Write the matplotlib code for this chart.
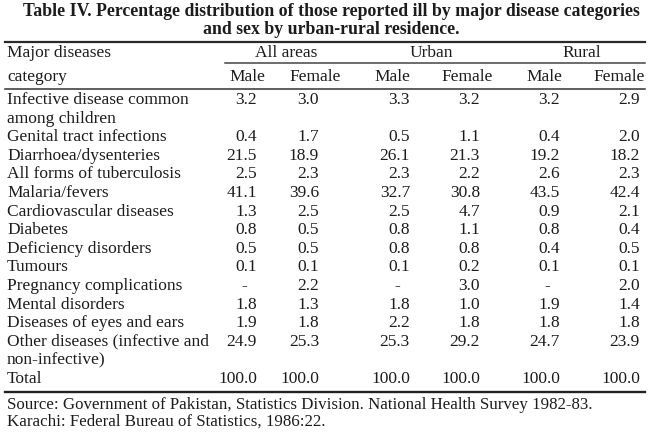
import matplotlib
matplotlib.use('Agg')
from matplotlib import pyplot as plt

plt.rcParams['font.family'] = ['Liberation Serif', 'DejaVu Serif']

title_lines = ['Table IV. Percentage distribution of those reported ill by major disease categories',
               'and sex by urban-rural residence.']
groups = ['All areas', 'Urban', 'Rural']
sexes = ['Male', 'Female', 'Male', 'Female', 'Male', 'Female']
categories = ['Infective disease common\namong children',
              'Genital tract infections',
              'Diarrhoea/dysenteries',
              'All forms of tuberculosis',
              'Malaria/fevers',
              'Cardiovascular diseases',
              'Diabetes',
              'Deficiency disorders',
              'Tumours',
              'Pregnancy complications',
              'Mental disorders',
              'Diseases of eyes and ears',
              'Other diseases (infective and\nnon-infective)',
              'Total']
all_male = ['3.2', '0.4', '21.5', '2.5', '41.1', '1.3', '0.8', '0.5', '0.1', '-', '1.8', '1.9', '24.9', '100.0']
all_female = ['3.0', '1.7', '18.9', '2.3', '39.6', '2.5', '0.5', '0.5', '0.1', '2.2', '1.3', '1.8', '25.3', '100.0']
urban_male = ['3.3', '0.5', '26.1', '2.3', '32.7', '2.5', '0.8', '0.8', '0.1', '-', '1.8', '2.2', '25.3', '100.0']
urban_female = ['3.2', '1.1', '21.3', '2.2', '30.8', '4.7', '1.1', '0.8', '0.2', '3.0', '1.0', '1.8', '29.2', '100.0']
rural_male = ['3.2', '0.4', '19.2', '2.6', '43.5', '0.9', '0.8', '0.4', '0.1', '-', '1.9', '1.8', '24.7', '100.0']
rural_female = ['2.9', '2.0', '18.2', '2.3', '42.4', '2.1', '0.4', '0.5', '0.1', '2.0', '1.4', '1.8', '23.9', '100.0']
source_lines = ['Source: Government of Pakistan, Statistics Division. National Health Survey 1982-83.',
                'Karachi: Federal Bureau of Statistics, 1986:22.']

columns = [all_male, all_female, urban_male, urban_female, rural_male, rural_female]

ink = '#1c1c1c'
fs = 12.5

fig = plt.figure(figsize=(6.5, 4.37), dpi=100)
ax = fig.add_axes([0, 0, 1, 1])
ax.set_xlim(0, 650)
ax.set_ylim(437, 0)
ax.axis('off')

# title
for i, line in enumerate(title_lines):
    ax.text(331, 12 + i * 17, line, ha='center', va='center', fontsize=12.8,
            fontweight='bold', color=ink)

# header
ax.plot([5, 645], [42, 42], color='#2a2a2a', lw=1.6)
ax.text(7, 53, 'Major diseases', ha='left', va='center', fontsize=fs, color=ink)
ax.text(7, 77, 'category', ha='left', va='center', fontsize=fs, color=ink)
group_x = [286, 431, 582]
for g, gx in zip(groups, group_x):
    ax.text(gx, 53, g, ha='center', va='center', fontsize=fs, color=ink)
ax.plot([225, 645], [63, 63], color='#444444', lw=1.1)
sex_x = [247, 315, 392, 467, 544, 619]
for s, sx in zip(sexes, sex_x):
    ax.text(sx, 77, s, ha='center', va='center', fontsize=fs, color=ink)
ax.plot([5, 645], [89, 89], color='#333333', lw=1.1)

# body
col_right = [257, 319, 410, 480, 560, 640]
step = 18.6
line_no = 0
for r, cat in enumerate(categories):
    y = 100 + line_no * step
    parts = cat.split('\n')
    for k, p in enumerate(parts):
        ax.text(7, y + k * step, p, ha='left', va='center', fontsize=fs, color=ink)
    for col, cx in zip(columns, col_right):
        val = col[r]
        if val == '-':
            ax.text(cx - 10, y, val, ha='right', va='center', fontsize=fs, color=ink)
        else:
            ax.text(cx, y, val, ha='right', va='center', fontsize=fs, color=ink)
    line_no += len(parts)

ax.plot([5, 645], [392, 392], color='#222222', lw=1.7)

for i, line in enumerate(source_lines):
    ax.text(7, 405 + i * 17, line, ha='left', va='center', fontsize=12.2, color=ink)

fig.savefig('out.png', dpi=100)
